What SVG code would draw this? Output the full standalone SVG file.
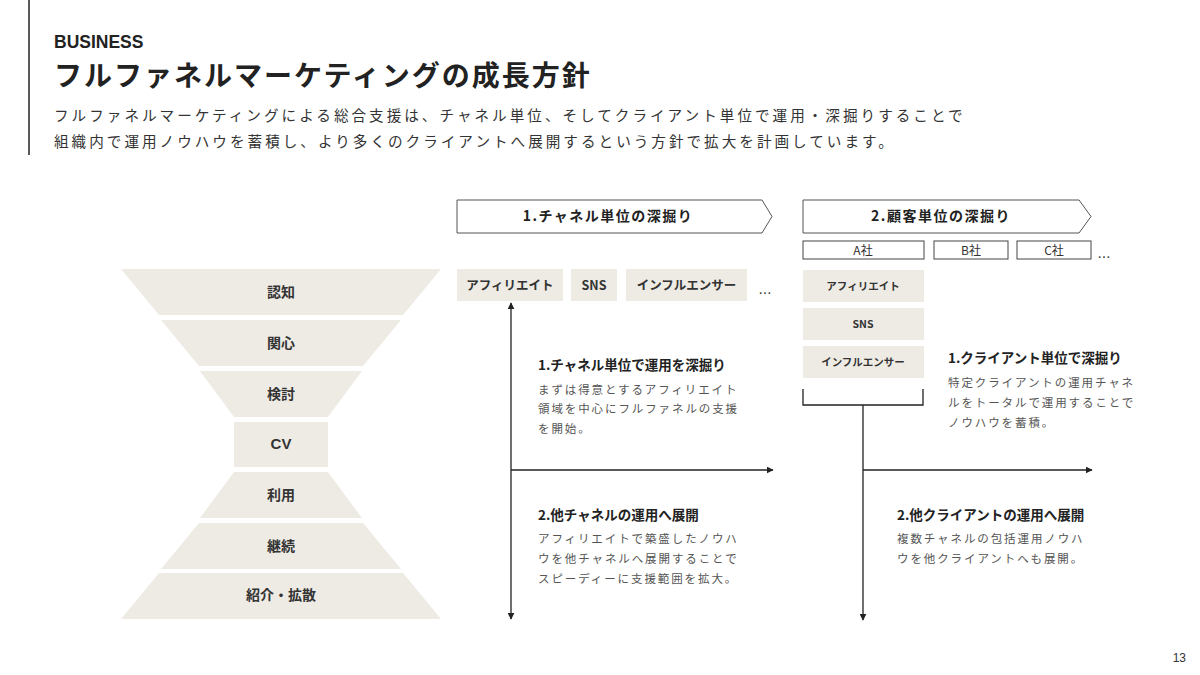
<svg xmlns="http://www.w3.org/2000/svg" width="1200" height="675" viewBox="0 0 1200 675">
<defs>
<style>
text{font-family:"Noto Sans CJK JP","Liberation Sans",sans-serif;fill:#222}
.bold{font-weight:bold}
.lbl{font-size:14px;font-weight:bold;text-anchor:middle;fill:#333}
.body{font-size:14.6px;letter-spacing:3px;fill:#333}
.desc{font-size:11.5px;letter-spacing:1.9px;fill:#555}
.dh{font-size:13.5px;font-weight:bold;fill:#222}
.fill{fill:#EEEBE4}
.hdr{fill:#fff;stroke:#555;stroke-width:1}
.co{fill:#fff;stroke:#444;stroke-width:1}
.chan{font-size:12.5px;font-weight:bold;text-anchor:middle;fill:#333}
.chs{font-size:10.5px;font-weight:bold;text-anchor:middle;fill:#333}
.ln{stroke:#222;stroke-width:1.3;fill:none}
.dots{font-size:13px;text-anchor:middle;fill:#333}
</style>
<marker id="ah" viewBox="0 0 10 10" refX="9" refY="5" markerWidth="7" markerHeight="7" markerUnits="userSpaceOnUse" orient="auto-start-reverse">
<path d="M0,0 L10,5 L0,10 z" fill="#222"/>
</marker>
</defs>
<rect width="1200" height="675" fill="#fff"/>
<line x1="29" y1="0" x2="29" y2="155" stroke="#222" stroke-width="1.5"/>
<text x="54" y="48" class="bold" style="font-family:'Liberation Sans',sans-serif;font-size:17.5px">BUSINESS</text>
<text x="54" y="86" class="bold" style="font-size:28px;letter-spacing:2px">フルファネルマーケティングの成長方針</text>
<text x="54" y="121" class="body">フルファネルマーケティングによる総合支援は、チャネル単位、そしてクライアント単位で運用・深掘りすることで</text>
<text x="54" y="147" class="body">組織内で運用ノウハウを蓄積し、より多くのクライアントへ展開するという方針で拡大を計画しています。</text>

<g id="funnel-1"><polygon class="fill" points="121,269 441,269 403,315 159,315"/><text x="281" y="297" class="lbl">認知</text></g>
<g id="funnel-2"><polygon class="fill" points="161,320 401,320 363,366 199,366"/><text x="281" y="348" class="lbl">関心</text></g>
<g id="funnel-3"><polygon class="fill" points="200,371 362,371 328,417 234,417"/><text x="281" y="399" class="lbl">検討</text></g>
<g id="funnel-4"><rect class="fill" x="234" y="422" width="94" height="45"/><text x="281" y="449" class="lbl" style="font-family:'Liberation Sans',sans-serif;font-size:15px">CV</text></g>
<g id="funnel-5"><polygon class="fill" points="234,472 328,472 362,518 200,518"/><text x="281" y="500" class="lbl">利用</text></g>
<g id="funnel-6"><polygon class="fill" points="199,523 363,523 401,569 161,569"/><text x="281" y="551" class="lbl">継続</text></g>
<g id="funnel-7"><polygon class="fill" points="159,573 403,573 441,619 121,619"/><text x="281" y="600" class="lbl">紹介・拡散</text></g>

<g id="header-1"><polygon class="hdr" points="457,200 762,200 772,216.5 762,233 457,233"/><text x="608" y="221" class="lbl" style="letter-spacing:1.5px;fill:#222">1.チャネル単位の深掘り</text></g>
<g id="header-2"><polygon class="hdr" points="803,200 1079,200 1091,216.5 1079,233 803,233"/><text x="941" y="221" class="lbl" style="letter-spacing:1.5px;fill:#222">2.顧客単位の深掘り</text></g>

<g id="client-a"><rect class="co" x="803" y="241" width="121" height="18"/><text x="863" y="254.5" style="font-size:12px;text-anchor:middle;fill:#333">A社</text></g>
<g id="client-b"><rect class="co" x="934" y="241" width="74" height="18"/><text x="971" y="254.5" style="font-size:12px;text-anchor:middle;fill:#333">B社</text></g>
<g id="client-c"><rect class="co" x="1017" y="241" width="74" height="18"/><text x="1054" y="254.5" style="font-size:12px;text-anchor:middle;fill:#333">C社</text></g>
<text x="1104" y="262" class="dots">…</text>

<g id="ch-affiliate"><rect class="fill" x="457" y="269" width="106" height="32"/><text x="510" y="290" class="chan">アフィリエイト</text></g>
<g id="ch-sns"><rect class="fill" x="571" y="269" width="46" height="32"/><text x="594" y="290" class="chan">SNS</text></g>
<g id="ch-influencer"><rect class="fill" x="626" y="269" width="121" height="32"/><text x="686.5" y="290" class="chan">インフルエンサー</text></g>
<text x="765" y="298" class="dots">…</text>

<g id="a-affiliate"><rect class="fill" x="803" y="270" width="121" height="32"/><text x="863" y="290" class="chs">アフィリエイト</text></g>
<g id="a-sns"><rect class="fill" x="803" y="308" width="121" height="32"/><text x="863" y="328" class="chs">SNS</text></g>
<g id="a-influencer"><rect class="fill" x="803" y="346" width="121" height="32"/><text x="863" y="366" class="chs">インフルエンサー</text></g>

<g id="connectors">
<line class="ln" x1="511" y1="303" x2="511" y2="619" marker-start="url(#ah)" marker-end="url(#ah)"/>
<line class="ln" x1="511" y1="470" x2="773" y2="470" marker-end="url(#ah)"/>
<polyline class="ln" points="803,389 803,405 923,405 923,389"/>
<line class="ln" x1="863" y1="405" x2="863" y2="620" marker-end="url(#ah)"/>
<line class="ln" x1="863" y1="470" x2="1092" y2="470" marker-end="url(#ah)"/>
</g>

<g id="text-ch-1">
<text x="538" y="370" class="dh">1.チャネル単位で運用を深掘り</text>
<text x="538" y="394" class="desc">まずは得意とするアフィリエイト</text>
<text x="538" y="413" class="desc">領域を中心にフルファネルの支援</text>
<text x="538" y="433" class="desc">を開始。</text>
</g>
<g id="text-ch-2">
<text x="538" y="520" class="dh">2.他チャネルの運用へ展開</text>
<text x="538" y="543" class="desc">アフィリエイトで築盛したノウハ</text>
<text x="538" y="563" class="desc">ウを他チャネルへ展開することで</text>
<text x="538" y="583" class="desc">スピーディーに支援範囲を拡大。</text>
</g>
<g id="text-cl-1">
<text x="948" y="363" class="dh">1.クライアント単位で深掘り</text>
<text x="948" y="387" class="desc">特定クライアントの運用チャネ</text>
<text x="948" y="407" class="desc">ルをトータルで運用することで</text>
<text x="948" y="427" class="desc">ノウハウを蓄積。</text>
</g>
<g id="text-cl-2">
<text x="897" y="520" class="dh">2.他クライアントの運用へ展開</text>
<text x="897" y="543" class="desc">複数チャネルの包括運用ノウハ</text>
<text x="897" y="563" class="desc">ウを他クライアントへも展開。</text>
</g>
<text x="1186" y="662" style="font-family:'Liberation Sans',sans-serif;font-size:12px;text-anchor:end;fill:#333">13</text>
</svg>
